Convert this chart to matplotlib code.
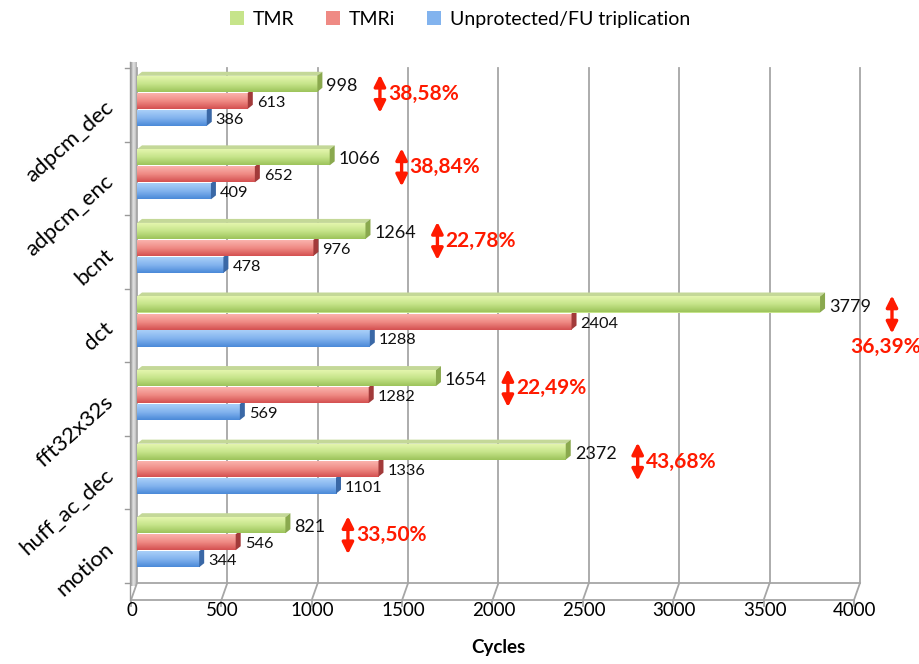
import numpy as np
import matplotlib
matplotlib.use("Agg")
import matplotlib.pyplot as plt
from matplotlib.patches import Polygon, Patch
from matplotlib.colors import LinearSegmentedColormap
import matplotlib.transforms as mtransforms

plt.rcParams['font.family'] = ['Lato', 'DejaVu Sans']

categories = ["adpcm_dec", "adpcm_enc", "bcnt", "dct", "fft32x32s", "huff_ac_dec", "motion"]
tmr = [998, 1066, 1264, 3779, 1654, 2372, 821]
tmri = [613, 652, 976, 2404, 1282, 1336, 546]
unprot = [386, 409, 478, 1288, 569, 1101, 344]
pct_labels = ["38,58%", "38,84%", "22,78%", "36,39%", "22,49%", "43,68%", "33,50%"]
series_names = ["TMR", "TMRi", "Unprotected/FU triplication"]
xticks = [0, 500, 1000, 1500, 2000, 2500, 3000, 3500, 4000]
xlabel = "Cycles"

W, H = 920, 664
fig = plt.figure(figsize=(W / 100, H / 100), dpi=100)
L, R, T, B = 137, 860, 68, 583
ax = fig.add_axes([L / W, 1 - B / H, (R - L) / W, (B - T) / H])
XMAX = 4000
ax.set_xlim(0, XMAX)
ax.set_ylim(6.5, -0.5)
for s in ax.spines.values():
    s.set_visible(False)

px_x = XMAX / (R - L)          # data units per pixel (x)
px_y = 7.0 / (B - T)           # data units per pixel (y)

# back wall gridlines
grid_c = "#a6a6a6"
for g in xticks:
    ax.plot([g, g], [-0.5, 6.5], color=grid_c, lw=1.3, zorder=1, clip_on=False)

# floor
dxf, dyf = -6 * px_x, 17 * px_y
floor = Polygon([[0, 6.5], [XMAX, 6.5], [XMAX + dxf, 6.5 + dyf], [dxf, 6.5 + dyf]],
                closed=True, facecolor="white", edgecolor="none", zorder=0.5, clip_on=False)
ax.add_patch(floor)
ax.plot([0, XMAX], [6.5, 6.5], color=grid_c, lw=1.3, clip_on=False, zorder=1)
ax.plot([dxf, XMAX + dxf], [6.5 + dyf, 6.5 + dyf], color=grid_c, lw=1.3, clip_on=False, zorder=1)
for g in xticks:
    ax.plot([g, g + dxf], [6.5, 6.5 + dyf], color=grid_c, lw=1.3, clip_on=False, zorder=1)
    ax.plot([g + dxf, g + dxf], [6.5 + dyf, 6.5 + dyf + 6 * px_y], color=grid_c, lw=1.3,
            clip_on=False, zorder=1)

# left wall (grey gradient strip)
wall_w = 7 * px_x
wall_grad = np.linspace(0, 1, 64).reshape(1, -1)
wall_cmap = LinearSegmentedColormap.from_list("w", ["#8c8c8c", "#e6e6e6", "#b0b0b0"])
ax.imshow(wall_grad, cmap=wall_cmap, extent=[-wall_w, 0, 6.5 + 3 * px_y, -0.5 - 6 * px_y],
          aspect="auto", zorder=0.8, clip_on=False, interpolation="bicubic")
ax.plot([-wall_w, -wall_w], [-0.5 - 6 * px_y, 6.5 + dyf], color="#9a9a9a", lw=1.0, clip_on=False)
for b in np.arange(-0.5, 7.0, 1.0):
    ax.plot([-wall_w - 5 * px_x, -wall_w], [b, b], color="#9a9a9a", lw=1.0, clip_on=False)

# bars
colors = [
    ("#e4f6ae", "#c6e48a", "#9cc35a", "#8aa94e", "#c4d898"),
    ("#fab3ad", "#ef8a84", "#d45050", "#a23a3a", "#e8a0a0"),
    ("#a9cff8", "#82b3ee", "#4a89d8", "#3a68a6", "#a0c0e8"),
]
offsets = [-21 * px_y, -4 * px_y, 13 * px_y]
bh = 16 * px_y
cdx, cdy = 5 * px_x, 4 * px_y
y = np.arange(len(categories))
series = [tmr, tmri, unprot]
for si in [2, 1, 0]:
    vals = series[si]
    top_c, mid_c, bot_c, cap_c, face_c = colors[si]
    cmap = LinearSegmentedColormap.from_list("b%d" % si, [top_c, mid_c, bot_c])
    yc = y + offsets[si]
    ax.barh(yc, vals, height=bh, color=mid_c, edgecolor="none", zorder=2 + (2 - si))
    for v, c in zip(vals, yc):
        ytop, ybot = c - bh / 2, c + bh / 2
        grad = np.linspace(0, 1, 64).reshape(-1, 1)
        ax.imshow(grad, cmap=cmap, extent=[0, v, ybot, ytop], aspect="auto",
                  zorder=2.1 + (2 - si), interpolation="bicubic")
        cap = Polygon([[v, ybot], [v, ytop], [v + cdx, ytop - cdy], [v + cdx, ybot - cdy]],
                      closed=True, facecolor=cap_c, edgecolor="none", zorder=2.2 + (2 - si))
        ax.add_patch(cap)
        if si == 0:
            face = Polygon([[0, ytop], [v, ytop], [v + cdx, ytop - cdy], [cdx, ytop - cdy]],
                           closed=True, facecolor=face_c, edgecolor="none", zorder=2.2)
            ax.add_patch(face)
        fs = 13 if si == 0 else 11.8
        ax.text(v + cdx + 4 * px_x, c + 2 * px_y, str(v), fontsize=fs, ha="left", va="center",
                color="#111111", zorder=6)

# percentage annotations
red = "#ff1a00"
for i, (g, lab) in enumerate(zip(tmr, pct_labels)):
    xa = g + 190 + 52 * len(str(g))
    yc = i - 11 * px_y
    ax.annotate("", xy=(xa, yc - 19 * px_y), xytext=(xa, yc + 19 * px_y),
                arrowprops=dict(arrowstyle="<|-|>", color=red, lw=2.4, mutation_scale=17,
                                shrinkA=0, shrinkB=0), annotation_clip=False, zorder=7)
    if categories[i] == "dct":
        ax.text(xa - 6 * px_x, yc + 32 * px_y, lab, color=red, fontsize=15, fontweight="bold",
                ha="center", va="center", zorder=7)
    else:
        ax.text(xa + 8 * px_x, yc, lab, color=red, fontsize=15, fontweight="bold",
                ha="left", va="center", zorder=7)

# axes ticks and labels
ax.set_xticks(xticks)
ax.set_xticklabels([str(t) for t in xticks], fontsize=13.5)
ax.tick_params(axis="x", length=0, pad=14)
shift = mtransforms.ScaledTranslation(-5 / 100, 0, fig.dpi_scale_trans)
for lbl in ax.get_xticklabels():
    lbl.set_transform(lbl.get_transform() + shift)
ax.set_xlabel(xlabel, fontsize=13.5, fontweight="bold", labelpad=14)

ax.set_yticks(y)
ax.set_yticklabels(categories, fontsize=16, rotation=42, ha="right", va="center",
                   rotation_mode="anchor")
ax.tick_params(axis="y", length=0, pad=19)

# legend
handles = [Patch(facecolor=colors[i][1], edgecolor="none") for i in range(3)]
fig.legend(handles, series_names, loc="upper center", bbox_to_anchor=(0.5, 1.01), ncol=3,
           frameon=False, fontsize=14, handlelength=0.75, handleheight=0.75,
           handletextpad=0.45, columnspacing=1.6)

ax.set_xlim(0, XMAX)
ax.set_ylim(6.5, -0.5)
fig.savefig("out.png", dpi=100)
